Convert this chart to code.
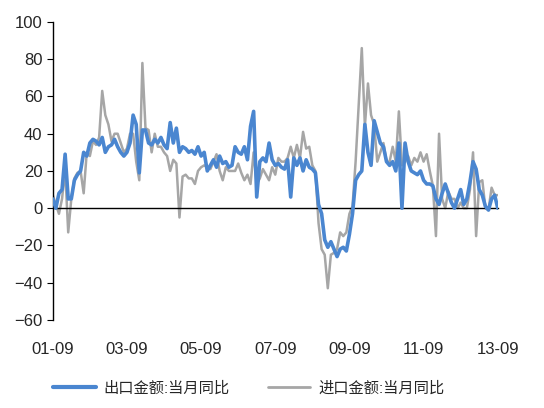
import numpy as np, pandas as pd, matplotlib
matplotlib.use("Agg")
import matplotlib.pyplot as plt, seaborn as sns

export_yoy = [5,0,8,10,29,5,5,15,18,20,30,28,
 35,37,36,34,38,30,33,34,37,33,30,28,
 30,35,50,45,19,42,42,35,34,37,35,38,
 34,32,46,35,43,30,33,32,30,31,29,33,
 28,30,20,23,26,22,28,24,25,22,23,33,
 30,29,33,26,44,52,6,25,27,25,35,26,
 23,24,22,21,26,6,27,23,27,20,26,22,
 21,19,2,-3,-17,-21,-18,-22,-26,-22,-21,-23,
 -14,-3,15,18,20,45,30,23,47,41,35,33,
 25,23,25,20,35,0,35,25,20,19,18,20,
 15,13,13,12,5,2,8,13,8,3,0,5,
 10,2,5,14,25,21,10,7,1,-1,5,7,0]
import_yoy = [7,2,-3,5,21,-13,5,16,19,20,8,30,
 28,36,34,38,63,50,45,36,40,40,35,30,
 32,40,40,25,15,78,43,42,30,40,33,33,
 30,28,20,26,24,-5,17,18,16,16,13,20,
 22,23,22,21,25,29,20,15,22,20,20,20,
 24,19,15,18,13,30,13,16,21,18,15,22,
 18,27,25,25,27,33,27,34,27,41,32,33,
 23,20,-8,-22,-25,-43,-25,-24,-22,-13,-15,-13,
 -3,1,25,55,86,44,67,50,45,25,30,35,
 25,25,33,25,52,23,25,28,23,27,25,30,
 25,29,20,12,-15,40,5,0,9,5,5,0,
 3,0,0,10,30,-15,14,15,0,-1,11,7,7]
tick_labels = ["01-09","03-09","05-09","07-09","09-09","11-09","13-09"]
names = ["出口金额:当月同比", "进口金额:当月同比"]

n = len(export_yoy)
df = pd.DataFrame({"m": np.arange(n), names[0]: export_yoy, names[1]: import_yoy[:n]})
long = df.melt("m", var_name="s", value_name="v")

sns.set_style("white")
plt.rcParams['font.family'] = ['Liberation Sans', 'Noto Sans CJK SC', 'DejaVu Sans']
fig = plt.figure(figsize=(5.44, 4.08), dpi=100)
ax = fig.add_axes([0.097, 0.216, 0.818, 0.73])
sns.lineplot(data=long, x="m", y="v", hue="s", palette=["#4A86D0", "#A6A6A6"],
             ax=ax, legend=True)
for line, lw in zip(ax.lines, [2.6, 1.8]):
    line.set_linewidth(lw)
ax.lines[0].set_zorder(3)
ax.set_xlim(0, 144)
ax.set_ylim(-60, 100)
ax.set_yticks(range(-60, 101, 20))
ax.set_xticks(range(0, 145, 24))
ax.set_xticklabels(tick_labels)
ax.spines['top'].set_visible(False)
ax.spines['right'].set_visible(False)
ax.spines['bottom'].set_position(('data', 0))
for s in ['left', 'bottom']:
    ax.spines[s].set_color('black'); ax.spines[s].set_linewidth(1)
ax.tick_params(axis='x', direction='out', length=4, color='black', pad=92, labelsize=12)
ax.tick_params(axis='y', direction='out', length=4, color='black', labelsize=12, left=True)
ax.set_xlabel(""); ax.set_ylabel("")
h, l = ax.get_legend_handles_labels()
for hh, lw in zip(h, [3, 2]):
    hh.set_linewidth(lw)
ax.legend(h, l, loc='upper center', bbox_to_anchor=(0.44, -0.16), ncol=2, frameon=False,
          fontsize=11, handlelength=2.8, columnspacing=2.5, handletextpad=0.5)
fig.savefig("out.png", dpi=100)
